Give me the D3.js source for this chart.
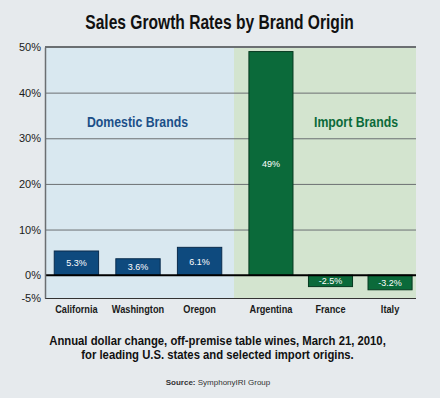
<!DOCTYPE html>
<html>
<head>
<meta charset="utf-8">
<script src="https://cdn.jsdelivr.net/npm/d3@7"></script>
<style>
  body { margin: 0; background: #e6eaed; }
  svg { display: block; }
  text { font-family: "Liberation Sans", Arial, sans-serif; }
</style>
</head>
<body>
<svg id="chart" width="440" height="398"></svg>
<script>
var domesticNames = ["California", "Washington", "Oregon"];
var domesticValues = [5.3, 3.6, 6.1];
var importNames = ["Argentina", "France", "Italy"];
var importValues = [49, -2.5, -3.2];
var tickValues = [-5, 0, 10, 20, 30, 40, 50];

var svg = d3.select("#chart"),
	plotLeft = 45, plotRight = 416, plotTop = 47, plotBottom = 298, split = 234;

var y = d3.scaleLinear()
	.domain([-5, 50])
	.range([plotBottom, plotTop]);

var xDom = d3.scaleBand()
	.domain(domesticNames)
	.range([plotLeft, 231])
	.paddingInner(0.28)
	.paddingOuter(0.15);

var xImp = d3.scaleBand()
	.domain(importNames)
	.range([237, 424])
	.paddingInner(0.26)
	.paddingOuter(0.2);

var domData = domesticNames.map(function (d, i) { return {name: d, value: domesticValues[i]}; });
var impData = importNames.map(function (d, i) { return {name: d, value: importValues[i]}; });

// condensed look: squeeze text horizontally
function label(x, yy, str, k) {
	return svg.append("text")
		.attr("transform", "translate(" + x + "," + yy + ") scale(" + k + ",1)")
		.attr("text-anchor", "middle")
		.text(str);
}

// background panels
svg.append("rect")
	.attr("x", plotLeft).attr("y", plotTop)
	.attr("width", split - plotLeft).attr("height", plotBottom - plotTop)
	.attr("fill", "#d9e8f0");
svg.append("rect")
	.attr("x", split).attr("y", plotTop)
	.attr("width", plotRight - split).attr("height", plotBottom - plotTop)
	.attr("fill", "#d3e4cf");

// grid
svg.append("g")
	.attr("transform", "translate(" + plotLeft + ",0)")
	.call(d3.axisLeft(y).tickValues([10, 20, 30, 40]).tickSize(-(plotRight - plotLeft)).tickFormat(""))
	.call(function (g) {
		g.select(".domain").remove();
		g.selectAll("line").attr("stroke", "#6b6f72").attr("stroke-width", 1);
	});

// top and bottom borders
svg.append("line")
	.attr("x1", plotLeft).attr("x2", plotRight)
	.attr("y1", y(50)).attr("y2", y(50))
	.attr("stroke", "#6b6f72").attr("stroke-width", 2);
svg.append("line")
	.attr("x1", plotLeft).attr("x2", plotRight)
	.attr("y1", y(-5) + 0.5).attr("y2", y(-5) + 0.5)
	.attr("stroke", "#333").attr("stroke-width", 1.2);

// bars
function drawBars(data, x, fill, stroke) {
	svg.append("g").selectAll("rect")
		.data(data)
		.enter().append("rect")
		.attr("x", function (d) { return x(d.name); })
		.attr("y", function (d) { return y(Math.max(0, d.value)); })
		.attr("width", x.bandwidth())
		.attr("height", function (d) { return Math.abs(y(d.value) - y(0)); })
		.attr("fill", fill)
		.attr("stroke", stroke)
		.attr("stroke-width", 1);

	svg.append("g").selectAll("text")
		.data(data)
		.enter().append("text")
		.attr("x", function (d) { return x(d.name) + x.bandwidth() / 2; })
		.attr("y", function (d) { return (y(d.value) + y(0)) / 2; })
		.attr("dy", "0.36em")
		.attr("text-anchor", "middle")
		.attr("font-size", "9px")
		.attr("fill", "#fff")
		.text(function (d) { return d.value + "%"; });

	svg.append("g")
		.attr("transform", "translate(0," + (plotBottom + 1) + ")")
		.call(d3.axisBottom(x).tickSize(0).tickPadding(6))
		.call(function (g) {
			g.select(".domain").remove();
			g.selectAll("text")
				.attr("font-family", null)
				.attr("font-size", "11.5px")
				.attr("font-weight", "bold")
				.attr("fill", "#1a1a1a")
				.attr("transform", "scale(0.8,1)");
		});
}
drawBars(domData, xDom, "#0e4a7e", "#0a2c4d");
drawBars(impData, xImp, "#0b6a3a", "#06391f");

// zero line
svg.append("line")
	.attr("x1", plotLeft).attr("x2", plotRight)
	.attr("y1", y(0)).attr("y2", y(0))
	.attr("stroke", "#000").attr("stroke-width", 2);

// y axis
svg.append("g")
	.attr("transform", "translate(" + plotLeft + ",0)")
	.call(d3.axisLeft(y).tickValues(tickValues).tickSize(0).tickPadding(4).tickFormat(function (d) { return d + "%"; }))
	.call(function (g) {
		g.select(".domain").attr("stroke", "#6b6f72").attr("stroke-width", 1.5);
		g.selectAll("text")
			.attr("font-family", null)
			.attr("font-size", "11px")
			.attr("fill", "#1a1a1a");
	});

// group labels
label((plotLeft + split) / 2 - 2, y(33.5) + 5, "Domestic Brands", 0.82)
	.attr("font-size", "15px").attr("font-weight", "bold")
	.attr("fill", "#1b4f88");
label((split + plotRight) / 2 + 31, y(33.5) + 5, "Import Brands", 0.82)
	.attr("font-size", "15px").attr("font-weight", "bold")
	.attr("fill", "#0b6a3a");

// title
label(219.5, 29, "Sales Growth Rates by Brand Origin", 0.8)
	.attr("font-size", "19.5px").attr("font-weight", "bold")
	.attr("fill", "#111");

// caption
var caption = ["Annual dollar change, off-premise table wines, March 21, 2010,",
	"for leading U.S. states and selected import origins."];
caption.forEach(function (d, i) {
	label(217.5, 345 + i * 14, d, 0.87)
		.attr("font-size", "13px")
		.attr("font-weight", "bold")
		.attr("fill", "#111");
});

var src = label(218, 385, "", 1)
	.attr("font-size", "8px")
	.attr("fill", "#333");
src.append("tspan").attr("font-weight", "bold").text("Source: ");
src.append("tspan").text("SymphonyIRI Group");
</script>
</body>
</html>
